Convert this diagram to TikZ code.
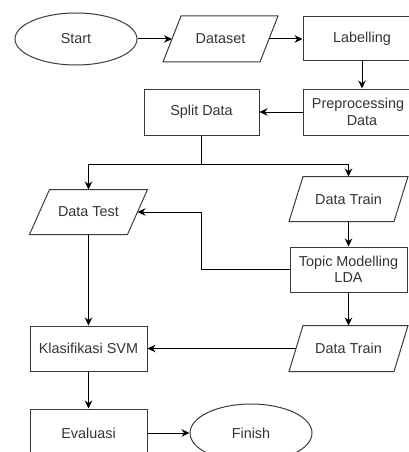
\documentclass[tikz,border=0pt]{standalone}
\usepackage{fontspec}
\setmainfont{Liberation Sans}
\usetikzlibrary{arrows.meta,shapes.geometric}
\definecolor{edge}{HTML}{3A3A3A}
\definecolor{txt}{HTML}{333333}
\begin{document}
\begin{tikzpicture}[x=1pt,y=-1pt,
  base/.style={line width=1pt, text=txt, align=center, inner sep=0pt,
    font=\fontsize{14.4}{16.5}\selectfont},
  proc/.style={base, draw=edge, rectangle, minimum width=117pt, minimum height=45pt},
  term/.style={base, draw=edge, ellipse, minimum width=122pt, minimum height=52pt},
  iotext/.style={base, rectangle, minimum width=#1, minimum height=45pt},
  outline/.style={line width=1pt, draw=edge},
  arr/.style={line width=1pt, draw=black, -{Stealth[length=8pt,width=7.5pt]}},
  wire/.style={line width=1pt, draw=black}]
\useasboundingbox (0,0) rectangle (409,452);
\clip (0,0) rectangle (409,452);

% slanted input/output box drawn round a named node
\newcommand\ioframe[2]{%
  \draw[outline] ([xshift=#2]#1.north west) -- ([xshift=#2]#1.north east)
    -- ([xshift=-#2]#1.south east) -- ([xshift=-#2]#1.south west) -- cycle;}

% nodes
\node[term] (start) at (76,39) {Start};
\node[iotext=96pt] (dataset) at (220.5,39) {Dataset};
\ioframe{dataset}{9pt}
\node[proc, minimum width=118pt, minimum height=44pt] (label) at (362,39) {Labelling};
\node[proc, minimum width=118pt, minimum height=46pt] (prep) at (362,112) {\hspace*{-8pt}Preprocessing\\Data};
\node[proc, minimum width=115pt, minimum height=46pt] (split) at (201.5,112) {Split Data};

\node[iotext=97pt, minimum height=44pt] (test) at (88.5,212) {Data Test};
\ioframe{test}{10pt}
\node[iotext=104pt, minimum height=44pt] (train1) at (348.5,199) {Data Train};
\ioframe{train1}{7pt}
\node[proc] (lda) at (348.5,269.5) {Topic Modelling\\LDA};
\node[iotext=104pt] (train2) at (348.5,348.5) {Data Train};
\ioframe{train2}{7pt}

\node[proc] (svm) at (88.5,348.5) {Klasifikasi SVM};
\node[proc, minimum height=48pt] (eval) at (88.5,433) {Evaluasi};
\node[term, minimum height=58pt] (finish) at (251,433) {Finish};

\coordinate (fork) at (201.5,164);

% connectors
\draw[arr] (start) -- (dataset);
\draw[arr] (dataset) -- (label);
\draw[arr] (label) -- (prep);
\draw[arr] (prep) -- (split);
\draw[wire] (split) -- (fork);
\draw[arr] (fork) -| (test.north);
\draw[arr] (fork) -| (train1.north);
\draw[arr] (train1) -- (lda);
\draw[arr] (lda.west) -- ++(-88,0) |- (test.east);
\draw[arr] (lda) -- (train2);
\draw[arr] (train2) -- (svm);
\draw[arr] (test) -- (svm);
\draw[arr] (svm) -- (eval);
\draw[arr] (eval) -- (finish);
\end{tikzpicture}
\end{document}
